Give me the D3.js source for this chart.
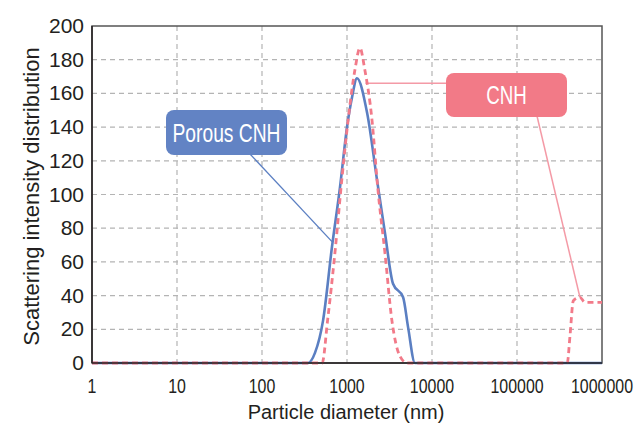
<!DOCTYPE html>
<html>
<head>
<meta charset="utf-8">
<script src="https://cdn.jsdelivr.net/npm/d3@7"></script>
<style>
  body { margin: 0; background: #fff; }
  text { font-family: "Liberation Sans", Arial, sans-serif; fill: #231f20; }
</style>
</head>
<body>
<svg id="chart" width="635" height="427"></svg>
<script>
// particle diameter (nm) and scattering intensity
const porousDiam = [1, 347, 420, 522, 666, 826, 1000, 1150, 1310, 1730, 2250, 2800, 3480, 4570, 5240, 6300, 1000000];
const porousVal  = [0, 0, 6, 25, 69, 104, 140, 158, 169, 148, 109, 77, 47, 39, 21, 0, 0];

const cnhDiam = [1, 510, 590, 720, 870, 1030, 1240, 1420, 1620, 1970, 2300, 2800, 3380, 4200, 5100,
                 390000, 420000, 460000, 550000, 630000, 1000000];
const cnhVal  = [0, 0, 25, 65, 109, 144, 174, 187, 174, 144, 104, 65, 25, 4, 0,
                 0, 16, 37, 39, 36, 36];

const xTicks = [1, 10, 100, 1000, 10000, 100000, 1000000];
const yTicks = [0, 20, 40, 60, 80, 100, 120, 140, 160, 180, 200];

const blue = '#5b7fc2';
const red = '#f27a89';

const svg = d3.select('#chart');
const plotLeft = 92, plotRight = 602, plotTop = 26, plotBottom = 363;

const x = d3.scaleLog().domain([1, 1000000]).range([plotLeft, plotRight]);
const y = d3.scaleLinear().domain([0, 200]).range([plotBottom, plotTop]);

// grid
svg.append('g')
    .selectAll('line')
    .data(xTicks.slice(1, -1))
    .join('line')
    .attr('x1', d => x(d)).attr('x2', d => x(d))
    .attr('y1', plotTop).attr('y2', plotBottom)
    .attr('stroke', '#b4b4b4').attr('stroke-width', 1.2)
    .attr('stroke-dasharray', '5,4');

svg.append('g')
    .selectAll('line')
    .data(yTicks.slice(1, -1))
    .join('line')
    .attr('x1', plotLeft).attr('x2', plotRight)
    .attr('y1', d => y(d)).attr('y2', d => y(d))
    .attr('stroke', '#b4b4b4').attr('stroke-width', 1.2)
    .attr('stroke-dasharray', '5,4');

// frame
svg.append('rect')
    .attr('x', plotLeft).attr('y', plotTop)
    .attr('width', plotRight - plotLeft).attr('height', plotBottom - plotTop)
    .attr('fill', 'none').attr('stroke', '#555').attr('stroke-width', 1.5);

// leader lines (drawn under curves)
svg.append('line')
    .attr('x1', 250).attr('y1', 154)
    .attr('x2', x(666)).attr('y2', y(72))
    .attr('stroke', blue).attr('stroke-width', 1.3);
svg.append('line')
    .attr('x1', 447).attr('y1', y(166))
    .attr('x2', x(1650)).attr('y2', y(166))
    .attr('stroke', '#f49aa6').attr('stroke-width', 1.5);
svg.append('line')
    .attr('x1', 537).attr('y1', 116)
    .attr('x2', x(550000)).attr('y2', y(39))
    .attr('stroke', '#f49aa6').attr('stroke-width', 1.5);

const line = d3.line()
    .x(d => x(d[0]))
    .y(d => y(d[1]))
    .curve(d3.curveMonotoneX);

svg.append('path')
    .datum(d3.zip(porousDiam, porousVal))
    .attr('d', line)
    .attr('fill', 'none')
    .attr('stroke', blue)
    .attr('stroke-width', 2.6);

svg.append('path')
    .datum(d3.zip(cnhDiam, cnhVal))
    .attr('d', line)
    .attr('fill', 'none')
    .attr('stroke', red)
    .attr('stroke-width', 2.8)
    .attr('stroke-dasharray', '6,4');

// axes lines
svg.append('line')
    .attr('x1', plotLeft).attr('x2', plotLeft).attr('y1', plotTop).attr('y2', plotBottom)
    .attr('stroke', '#231f20').attr('stroke-width', 1.5);
svg.append('line')
    .attr('x1', plotLeft).attr('x2', plotRight).attr('y1', plotBottom).attr('y2', plotBottom)
    .attr('stroke', '#231f20').attr('stroke-width', 1.5);

// tick labels
svg.append('g')
    .selectAll('text')
    .data(yTicks)
    .join('text')
    .attr('x', 84)
    .attr('y', d => y(d) + 7)
    .attr('text-anchor', 'end')
    .attr('font-size', 21)
    .text(d => d);

svg.append('g')
    .selectAll('text')
    .data(xTicks)
    .join('text')
    .attr('transform', d => `translate(${x(d)},393) scale(0.76,1)`)
    .attr('text-anchor', 'middle')
    .attr('font-size', 21)
    .text(d => d);

// axis titles
svg.append('text')
    .attr('transform', `translate(39,${(plotTop + plotBottom) / 2 + 2}) rotate(-90)`)
    .attr('text-anchor', 'middle')
    .attr('font-size', 22)
    .text('Scattering intensity distribution');

svg.append('text')
    .attr('x', 346).attr('y', 419)
    .attr('text-anchor', 'middle')
    .attr('font-size', 20)
    .text('Particle diameter (nm)');

// labels
function tag(x0, y0, w, h, fill, label, sx) {
    const g = svg.append('g');
    g.append('rect')
        .attr('x', x0).attr('y', y0)
        .attr('width', w).attr('height', h)
        .attr('rx', 8)
        .attr('fill', fill);
    g.append('text')
        .attr('transform', `translate(${x0 + w / 2},${y0 + h / 2 + 9}) scale(${sx},1)`)
        .attr('text-anchor', 'middle')
        .attr('font-size', 25)
        .style('fill', '#fff')
        .text(label);
}
tag(166, 110, 121, 45, '#6283c4', 'Porous CNH', 0.77);
tag(446, 73, 121, 44, '#f27a87', 'CNH', 0.75);
</script>
</body>
</html>
